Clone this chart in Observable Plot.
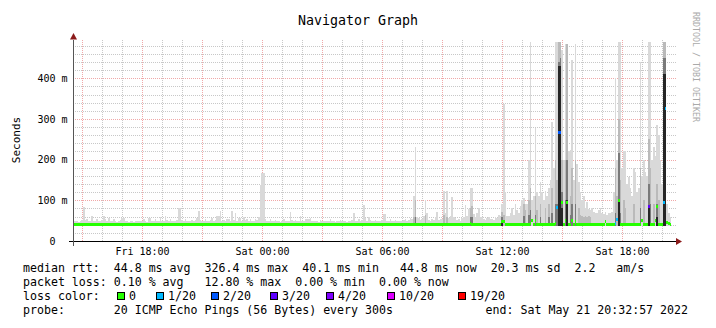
<!DOCTYPE html>
<html><head><meta charset="utf-8">
<script src="https://cdn.jsdelivr.net/npm/d3@7"></script>
<script src="https://cdn.jsdelivr.net/npm/@observablehq/plot@0.6"></script>
<style>
body{margin:0;background:#fff;}
#wrap{position:relative;width:716px;height:328px;font-family:"DejaVu Sans Mono",monospace;color:#000;overflow:hidden;}
#wrap svg{position:absolute;left:0;top:0;}
.t{position:absolute;white-space:pre;font-size:11.6px;line-height:14px;}
.box{position:absolute;width:6px;height:6px;border:1px solid #000;}
</style></head><body><div id="wrap"></div>
<script>
// ---------------- data ----------------
const startHour = 14.55;          // Fri 14:33 (hours since Fri 00:00)
const endHour = 44.55;            // Sat 20:33
const stepMinutes = 5;
const yMax = 494;                 // ms
const smokeFloor = 36;            // ms, lowest ping

const median = [
42,42,43,42,42,42,43,42,42,42,41,42,42,42,42,43,42,42,42,42,
42,42,42,41,42,42,42,42,42,43,42,42,42,42,41,41,42,42,42,42,
42,42,42,42,42,42,43,42,42,42,42,42,42,42,42,42,43,42,42,42,
42,42,42,42,43,42,42,42,42,42,42,42,41,42,42,42,43,42,42,42,
42,42,42,42,42,42,42,43,42,42,42,42,42,42,42,43,42,42,42,42,
42,42,42,42,42,42,42,42,42,42,42,42,43,43,43,42,42,42,42,42,
42,42,42,42,42,42,42,42,42,42,42,42,42,42,42,41,42,42,42,42,
42,42,42,42,42,42,42,42,42,42,42,42,42,42,42,42,42,42,42,41,
42,42,42,42,42,42,42,42,42,42,42,42,42,42,43,42,42,42,42,42,
42,42,42,42,42,42,42,42,42,42,42,42,42,42,42,42,42,41,42,42,
42,42,42,42,43,43,42,42,42,42,42,43,42,42,42,42,42,42,42,42,
42,42,42,42,43,42,42,42,42,42,42,42,42,42,42,43,42,42,44,43,
42,42,42,42,42,42,42,42,42,42,42,42,42,42,42,42,42,48,48,42,
42,42,42,42,42,42,42,42,42,42,43,42,42,43,44,51,42,52,43,42,
43,42,42,42,42,42,42,43,42,44,83,269,269,96,42,52,97,43,42,51,
42,48,43,42,42,42,42,42,42,42,42,42,42,42,42,42,42,42,42,48,
42,42,42,42,42,45,54,100,43,42,42,42,42,42,42,42,42,42,42,42,
42,51,43,42,42,85,43,42,42,52,85,42,42,42,95,326,47,45,42
];

const smokeMax = [
50,48,49,47,50,52,84,52,55,50,48,62,50,49,55,50,48,52,62,54,
50,56,49,48,54,50,47,49,51,57,57,50,48,46,49,50,47,48,50,49,
48,50,53,49,47,57,57,50,49,55,48,50,60,49,50,62,51,48,54,50,
48,50,52,82,82,51,49,54,50,48,50,52,49,51,56,73,52,50,49,55,
50,48,51,56,50,52,61,61,73,50,52,49,55,55,50,74,52,70,50,56,
56,50,60,51,55,49,53,50,48,55,51,58,138,168,168,55,50,49,54,50,
48,52,49,50,47,49,53,50,48,50,72,51,49,52,48,50,61,50,49,55,
55,55,57,50,48,49,50,47,52,50,48,49,50,48,54,50,49,47,48,50,
52,49,48,50,47,49,50,52,70,50,49,55,50,52,89,56,50,58,52,49,
50,52,49,48,50,52,67,67,50,49,54,50,48,52,49,50,48,50,52,54,
50,52,56,55,110,232,58,57,52,55,62,101,70,52,50,55,52,58,72,52,
55,54,122,70,122,56,62,107,58,56,52,54,50,56,60,89,62,78,130,130,
66,58,70,82,60,58,55,52,56,60,55,54,52,58,56,65,62,90,336,120,
62,62,70,80,65,90,75,70,85,100,106,90,90,200,490,100,110,278,120,110,
146,120,100,122,110,130,150,293,180,490,490,490,490,470,200,485,485,220,224,445,
150,485,190,145,120,100,110,82,95,78,75,80,72,70,68,75,82,70,66,72,
65,70,68,72,120,400,200,490,490,180,220,220,140,158,130,110,180,170,120,130,
440,160,200,170,160,490,490,200,230,210,285,260,200,140,490,490,90,70,60
];

// inner (darker) smoke bands for selected steps
const layerStep  = [204,205,211,222,224, 238,239,257,258,270, 271,273,274,277,278, 280,283,285,287,289, 290,291,292,293,295, 296,298,299,301,303, 304,305,306,307,308, 309,310,325,326,327, 328,330,331,336,340, 342,345,346,348,350, 351,354,355];
const layerMid   = [60,100,65,65,60, 80,85,72,65,90, 75,100,130,110,75, 90,80,90,130,200, 150,490,490,200,200, 485,110,180,200,80, 65,62,60,62,60, 62,60,180,110,300, 150,100,80,90,180, 100,250,180,90,140, 100,490,490];
const layerDark  = [null,60,null,null,null, 58,60,60,null,62, null,65,75,65,null, 60,null,60,70,90, 90,440,450,120,100, 200,65,90,90,null, null,null,null,null,null, null,null,70,null,216, 70,null,null,null,80, null,140,90,null,90, null,450,450];
const layerBlack = [null,null,null,null,null, null,null,52,null,null, null,null,null,null,null, null,null,null,null,null, null,430,430,80,null, 100,null,null,null,null, null,null,null,null,null, null,null,null,null,100, null,null,null,null,null, null,85,null,null,60, null,410,410];

// packet loss per step (count out of 20), steps not listed had none
const lossStep  = [290,291,292,325,326,345,354,355];
const lossCount = [1,2,2,1,1,3,1,1];

const lossLevels = [0,1,2,3,4,10,19];
const lossLabels = ["0","1/20","2/20","3/20","4/20","10/20","19/20"];
const lossColors = ["#26ff00","#00b8ff","#0059ff","#5e00ff","#7e00ff","#dd00ff","#ff0000"];

const xTickHours  = [18,24,30,36,42];
const xTickLabels = ["Fri 18:00","Sat 00:00","Sat 06:00","Sat 12:00","Sat 18:00"];
const yTickValues = [0,100,200,300,400];
const yTickLabels = ["0\u00a0\u00a0","100 m","200 m","300 m","400 m"];

const titleText = "Navigator Graph";
const yLabel = "Seconds";
const watermark = "RRDTOOL / TOBI OETIKER";
const legendRtt  = "median rtt:  44.8 ms avg  326.4 ms max  40.1 ms min   44.8 ms now  20.3 ms sd  2.2   am/s";
const legendLoss = "packet loss: 0.10 % avg   12.80 % max  0.00 % min  0.00 % now";
const legendProbe = "probe:       20 ICMP Echo Pings (56 Bytes) every 300s";
const legendEnd = "end: Sat May 21 20:32:57 2022";

// ---------------- tables ----------------
const stepH = stepMinutes / 60;
const steps = median.map((m, k) => ({t0: startHour + k * stepH, t1: startHour + (k + 1) * stepH, med: m, max: smokeMax[k], loss: 0}));
lossStep.forEach((k, i) => { steps[k].loss = lossCount[i]; });
const layers = layerStep.map((k, i) => ({t0: startHour + k * stepH, t1: startHour + (k + 1) * stepH, mid: layerMid[i], dark: layerDark[i], black: layerBlack[i]}));

// grid definition
const yMinor = d3.range(20, yMax, 20).filter(v => v % 100 !== 0);
const yMajor = d3.range(100, yMax, 100);
const xMinor = d3.range(Math.ceil(startHour), endHour, 1).filter(h => h % 3 !== 0);
const xMajor = d3.range(Math.ceil(startHour), endHour, 1).filter(h => h % 3 === 0);

const minorColor = "#c8c8c8", majorColor = "#f0a8a8", arrowColor = "#8b1a1a";

function gridLayer(index, scales, values, dims) {
  const {x, y} = scales;
  const g = d3.create("svg:g").attr("shape-rendering", "crispEdges");
  const left = dims.marginLeft, right = dims.width - dims.marginRight + 3;
  const top = dims.marginTop, bottom = dims.height - dims.marginBottom;
  const ln = (x1, y1, x2, y2, c) => g.append("line").attr("x1", x1).attr("y1", y1).attr("x2", x2).attr("y2", y2)
      .attr("stroke", c).attr("stroke-dasharray", "1,1");
  for (const v of yMinor) { const p = Math.round(y(v)) + 0.5; ln(left, p, right, p, minorColor); }
  for (const h of xMinor) { const p = Math.round(x(h)) + 0.5; ln(p, top, p, bottom, minorColor); }
  for (const v of yMajor) { const p = Math.round(y(v)) + 0.5; ln(left, p, right, p, majorColor); }
  for (const h of xMajor) { const p = Math.round(x(h)) + 0.5; ln(p, top, p, bottom, majorColor); }
  return g.node();
}

function axisLayer(index, scales, values, dims) {
  const g = d3.create("svg:g");
  const ax = dims.marginLeft + 0.5;
  const ay = dims.height - dims.marginBottom + 0.5;
  const right = dims.width - dims.marginRight + 3;
  const top = dims.marginTop;
  g.append("line").attr("x1", ax - 5).attr("x2", right).attr("y1", ay).attr("y2", ay).attr("stroke", "#000").attr("shape-rendering", "crispEdges");
  g.append("line").attr("x1", ax).attr("x2", ax).attr("y1", ay + 4).attr("y2", top).attr("stroke", "#555").attr("shape-rendering", "crispEdges");
  g.append("path").attr("d", `M${ax - 3.5},${top - 0.5}L${ax + 3.5},${top - 0.5}L${ax},${top - 7}Z`).attr("fill", arrowColor);
  g.append("path").attr("d", `M${right},${ay - 3.5}L${right},${ay + 3.5}L${right + 6},${ay}Z`).attr("fill", arrowColor);
  return g.node();
}

const chart = Plot.plot({
  width: 716, height: 328,
  marginLeft: 73, marginRight: 43, marginTop: 40, marginBottom: 87,
  x: {domain: [startHour, endHour], ticks: xTickHours, tickFormat: h => xTickLabels[xTickHours.indexOf(h)], tickSize: 0, tickPadding: 6, label: null},
  y: {domain: [0, yMax], ticks: yTickValues, tickFormat: v => yTickLabels[yTickValues.indexOf(v)], tickSize: 0, tickPadding: 6, label: null},
  color: {type: "ordinal", domain: lossLevels, range: lossColors},
  style: {fontFamily: "DejaVu Sans Mono", fontSize: "10px", color: "#000", background: "transparent", overflow: "visible"},
  marks: [
    gridLayer,
    Plot.rect(steps, {x1: "t0", x2: "t1", y1: smokeFloor, y2: "max", fill: "#d9d9d9", shapeRendering: "crispEdges"}),
    Plot.rect(layers, {x1: "t0", x2: "t1", y1: smokeFloor, y2: "mid", fill: "#bababa", shapeRendering: "crispEdges"}),
    Plot.rect(layers, {x1: "t0", x2: "t1", y1: smokeFloor, y2: "dark", fill: "#7a7a7a", shapeRendering: "crispEdges"}),
    Plot.rect(layers, {x1: "t0", x2: "t1", y1: smokeFloor, y2: "black", fill: "#262626", shapeRendering: "crispEdges"}),
    Plot.ruleY(steps, {y: "med", x1: "t0", x2: "t1", stroke: "loss", strokeWidth: 3, shapeRendering: "crispEdges"}),
    axisLayer
  ]
});

const wrap = document.getElementById("wrap");
wrap.appendChild(chart);

function addText(txt, css, cls = "t") {
  const d = document.createElement("div");
  d.className = cls; d.textContent = txt;
  Object.assign(d.style, css);
  wrap.appendChild(d);
  return d;
}
// title
addText(titleText, {left: "0px", width: "716px", textAlign: "center", top: "13px", fontSize: "13.3px", lineHeight: "16px"});
// y label
addText(yLabel, {left: "17px", top: "140px", fontSize: "11px", lineHeight: "12px", transform: "translate(-50%,-50%) rotate(-90deg)"});
// watermark
addText(watermark, {left: "694.5px", top: "67px", fontSize: "8.3px", lineHeight: "9px", color: "#aaaaaa", transform: "translate(-50%,-50%) rotate(90deg)"});
// legend rows
addText(legendRtt, {left: "23px", top: "261px"});
addText(legendLoss, {left: "23px", top: "275px"});
addText("loss color:", {left: "23px", top: "289px"});
const boxX = [117, 156, 211, 270, 326, 387, 458];
lossLabels.forEach((lab, i) => {
  const b = document.createElement("div");
  b.className = "box";
  Object.assign(b.style, {left: boxX[i] + "px", top: "292px", background: lossColors[i]});
  wrap.appendChild(b);
  addText(lab, {left: (boxX[i] + 12) + "px", top: "289px"});
});
addText(legendProbe, {left: "23px", top: "303px"});
addText(legendEnd, {right: "28px", top: "303px"});
</script></body></html>
